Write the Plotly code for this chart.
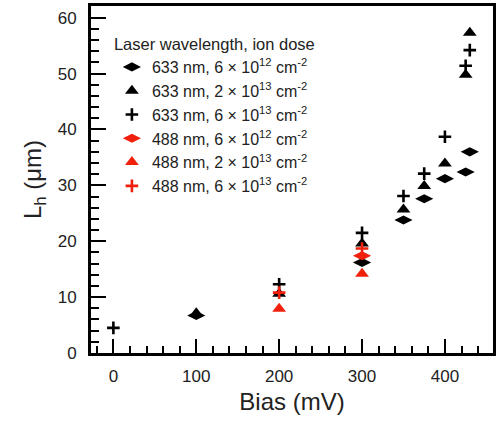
import plotly.graph_objects as go

# Data (Bias in mV, L_h in µm)
bias_633_6e12 = [100, 300, 350, 375, 400, 425, 430]
lh_633_6e12 = [6.7, 16.2, 23.8, 27.6, 31.2, 32.4, 36.0]

bias_633_2e13 = [100, 200, 300, 350, 375, 400, 425, 430]
lh_633_2e13 = [7.1, 10.6, 19.6, 25.7, 29.9, 33.9, 49.8, 57.3]

bias_633_6e13 = [0, 200, 300, 350, 375, 400, 425, 430]
lh_633_6e13 = [4.5, 12.3, 21.5, 28.1, 32.1, 38.7, 51.4, 54.2]

bias_488_6e12 = [300]
lh_488_6e12 = [17.4]

bias_488_2e13 = [200, 300]
lh_488_2e13 = [7.9, 14.2]

bias_488_6e13 = [200, 300]
lh_488_6e13 = [10.8, 18.7]

names = [
    "633 nm, 6 × 10<sup>12</sup> cm<sup>-2</sup>",
    "633 nm, 2 × 10<sup>13</sup> cm<sup>-2</sup>",
    "633 nm, 6 × 10<sup>13</sup> cm<sup>-2</sup>",
    "488 nm, 6 × 10<sup>12</sup> cm<sup>-2</sup>",
    "488 nm, 2 × 10<sup>13</sup> cm<sup>-2</sup>",
    "488 nm, 6 × 10<sup>13</sup> cm<sup>-2</sup>",
]

BLACK = "#000000"
RED = "#f0200c"

series = [
    (bias_633_6e12, lh_633_6e12, "diamond-wide", BLACK, 13),
    (bias_633_2e13, lh_633_2e13, "triangle-up", BLACK, 12),
    (bias_633_6e13, lh_633_6e13, "cross-thin", BLACK, 9),
    (bias_488_6e12, lh_488_6e12, "diamond-wide", RED, 13),
    (bias_488_2e13, lh_488_2e13, "triangle-up", RED, 12),
    (bias_488_6e13, lh_488_6e13, "cross-thin", RED, 9),
]

fig = go.Figure()
for i, ((x, y, sym, col, sz), nm) in enumerate(zip(series, names)):
    fig.add_trace(go.Scatter(
        x=x, y=y, mode="markers", name=nm, legendgroup=str(i),
        marker=dict(symbol=sym, color=col, size=sz,
                    line=dict(color=col, width=2.6 if "cross" in sym else 0)),
    ))

font_family = "Liberation Sans, Arial, sans-serif"

fig.update_layout(
    width=499, height=421,
    margin=dict(l=91, r=4, t=3, b=68),
    paper_bgcolor="white", plot_bgcolor="white",
    font=dict(family=font_family, color="#222222"),
    showlegend=True,
    legend=dict(
        x=0.052, y=0.935, xanchor="left", yanchor="top",
        bgcolor="rgba(0,0,0,0)", borderwidth=0,
        font=dict(size=16, color="#222222", family=font_family),
        title=dict(text="Laser wavelength, ion dose", font=dict(size=16.5, color="#222222")),
        tracegroupgap=0,
    ),
    xaxis=dict(
        range=[-27, 458], tickvals=[0, 100, 200, 300, 400],
        ticks="inside", ticklen=14, tickwidth=2, tickcolor="black",
        minor=dict(dtick=20, tick0=0, ticks="inside", ticklen=7, tickwidth=1.5, tickcolor="black"),
        showline=True, linecolor="black", linewidth=3, mirror=True,
        showgrid=False, zeroline=False,
        tickfont=dict(size=17, color="#222222"),
        ticklabelstandoff=6,
        title=dict(text="Bias (mV)", font=dict(size=24, color="#222222"), standoff=8),
    ),
    yaxis=dict(
        range=[0, 62.1], tickvals=[0, 10, 20, 30, 40, 50, 60],
        ticks="inside", ticklen=15, tickwidth=2, tickcolor="black",
        minor=dict(dtick=2, tick0=0, ticks="inside", ticklen=8, tickwidth=1.5, tickcolor="black"),
        showline=True, linecolor="black", linewidth=3, mirror=True,
        showgrid=False, zeroline=False,
        tickfont=dict(size=17, color="#222222"),
        ticklabelstandoff=8,
        title=dict(text="L<sub>h</sub> (μm)", font=dict(size=24, color="#222222"), standoff=10),
    ),
)

fig.write_html("out.html")
